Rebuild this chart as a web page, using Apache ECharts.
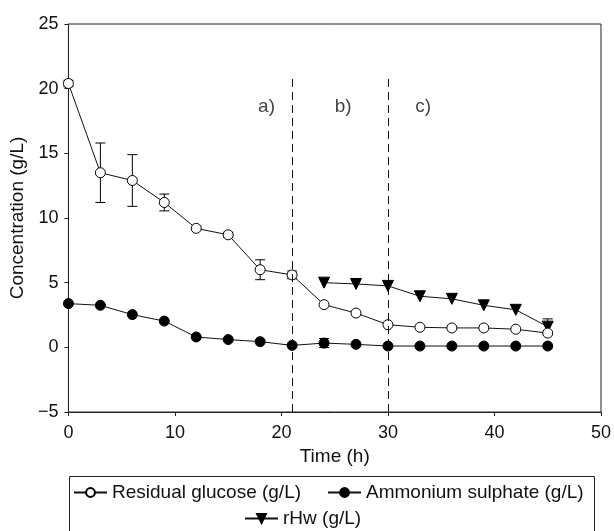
<!DOCTYPE html>
<html>
<head>
<meta charset="utf-8">
<script src="https://cdn.jsdelivr.net/npm/echarts@6/dist/echarts.min.js"></script>
<style>
  html, body { margin: 0; padding: 0; background: #fff; }
  #chart { width: 614px; height: 531px; }
</style>
</head>
<body>
<div id="chart"></div>
<script>
// 数据
const time = [0, 3, 6, 9, 12, 15, 18, 21, 24, 27, 30, 33, 36, 39, 42, 45];
const glucose = [20.4, 13.5, 12.9, 11.2, 9.2, 8.7, 6.0, 5.6, 3.3, 2.65, 1.75, 1.55, 1.5, 1.5, 1.4, 1.1];
const glucoseErr = [0.25, 2.3, 2.0, 0.65, 0.1, 0.2, 0.77, 0.3, 0, 0, 0, 0, 0, 0, 0, 0];
const ammonium = [3.38, 3.25, 2.53, 2.03, 0.8, 0.6, 0.44, 0.15, 0.33, 0.23, 0.1, 0.1, 0.1, 0.1, 0.1, 0.1];
const ammoniumErr = [0, 0, 0, 0, 0, 0, 0, 0, 0.35, 0, 0, 0, 0, 0, 0, 0];
const rhwTime = [24, 27, 30, 33, 36, 39, 42, 45];
const rhw = [5.0, 4.9, 4.75, 3.95, 3.75, 3.25, 2.9, 1.6];
const rhwErr = [0, 0, 0, 0, 0, 0, 0, 0.6];

const phaseLines = [21, 30];
const phaseTop = 21;
const phaseLabels = ['a)', 'b)', 'c)'];
const phaseLabelX = [18.6, 25.8, 33.3];
const phaseLabelY = 18.6;

const names = ['Residual glucose (g/L)', 'Ammonium sulphate (g/L)', 'rHw (g/L)'];

const FONT = 'Liberation Sans, Arial, sans-serif';

function pairs(xs, ys) {
    return xs.map(function (x, i) { return [x, ys[i]]; });
}

function errData(xs, ys, es) {
    let out = [];
    xs.forEach(function (x, i) {
        if (es[i] > 0) out.push([x, ys[i] - es[i], ys[i] + es[i]]);
    });
    return out;
}

function renderErr(params, api) {
    let x = api.value(0);
    let lo = api.coord([x, api.value(1)]);
    let hi = api.coord([x, api.value(2)]);
    let w = 5;
    let style = { stroke: '#000', lineWidth: 1 };
    return {
        type: 'group',
        children: [
            { type: 'line', shape: { x1: lo[0], y1: lo[1], x2: hi[0], y2: hi[1] }, style: style },
            { type: 'line', shape: { x1: lo[0] - w, y1: lo[1], x2: lo[0] + w, y2: lo[1] }, style: style },
            { type: 'line', shape: { x1: hi[0] - w, y1: hi[1], x2: hi[0] + w, y2: hi[1] }, style: style }
        ]
    };
}

let myChart = echarts.init(document.getElementById('chart'));

let option = {
    animation: false,
    backgroundColor: '#fff',
    textStyle: { fontFamily: FONT },
    grid: {
        left: 68, right: 10, top: 24, bottom: 119,
        show: true, borderColor: '#222', borderWidth: 1
    },
    xAxis: {
        type: 'value',
        min: 0, max: 50, interval: 10,
        name: 'Time (h)',
        nameLocation: 'middle',
        nameGap: 32,
        nameTextStyle: { color: '#111', fontSize: 19, fontFamily: FONT },
        axisLine: { show: true, onZero: false, lineStyle: { color: '#222', width: 1 } },
        axisTick: { show: true, inside: false, length: 4, lineStyle: { color: '#222' } },
        axisLabel: { color: '#111', fontSize: 18, margin: 12, fontFamily: FONT },
        splitLine: { show: false }
    },
    yAxis: {
        type: 'value',
        min: -5, max: 25, interval: 5,
        name: 'Concentration (g/L)',
        nameLocation: 'middle',
        nameGap: 40,
        nameTextStyle: { color: '#111', fontSize: 19, fontFamily: FONT },
        axisLine: { show: true, onZero: false, lineStyle: { color: '#222', width: 1 } },
        axisTick: { show: true, inside: false, length: 4, lineStyle: { color: '#222' } },
        axisLabel: {
            color: '#111', fontSize: 18, margin: 10, fontFamily: FONT,
            formatter: function (v) { return v < 0 ? '\u2212' + Math.abs(v) : String(v); }
        },
        splitLine: { show: false }
    },
    legend: [{
        data: [names[0], names[1]],
        left: 68, top: 478,
        itemGap: 26, itemWidth: 33, itemHeight: 11, itemTextGap: 11,
        textStyle: { color: '#111', fontSize: 19, fontFamily: FONT }
    }, {
        data: [names[2]],
        left: 239, top: 504,
        itemWidth: 33, itemHeight: 11, itemTextGap: 10,
        textStyle: { color: '#111', fontSize: 19, fontFamily: FONT }
    }],
    graphic: [{
        type: 'rect',
        shape: { x: 69.5, y: 476.5, width: 525, height: 80 },
        style: { fill: 'none', stroke: '#222', lineWidth: 1 },
        silent: true
    }],
    series: [{
        type: 'custom',
        renderItem: renderErr,
        data: errData(time, glucose, glucoseErr),
        z: 1, silent: true
    }, {
        type: 'custom',
        renderItem: renderErr,
        data: errData(time, ammonium, ammoniumErr),
        z: 1, silent: true
    }, {
        type: 'custom',
        renderItem: renderErr,
        data: errData(rhwTime, rhw, rhwErr),
        z: 1, silent: true
    }, {
        name: names[1],
        type: 'line',
        data: pairs(time, ammonium),
        symbol: 'circle', symbolSize: 10,
        itemStyle: { color: '#000', borderColor: '#000', borderWidth: 1 },
        lineStyle: { color: '#111', width: 1 },
        z: 3
    }, {
        name: names[2],
        type: 'line',
        data: pairs(rhwTime, rhw),
        symbol: 'triangle', symbolSize: 11, symbolRotate: 180,
        itemStyle: { color: '#000', borderColor: '#000', borderWidth: 1 },
        lineStyle: { color: '#111', width: 1 },
        z: 3
    }, {
        name: names[0],
        type: 'line',
        data: pairs(time, glucose),
        symbol: 'circle', symbolSize: 10,
        itemStyle: { color: '#fff', borderColor: '#000', borderWidth: 1 },
        lineStyle: { color: '#111', width: 1 },
        z: 4,
        markLine: {
            silent: true,
            symbol: 'none',
            label: { show: false },
            lineStyle: { color: '#111', width: 1, type: [8, 5] },
            data: phaseLines.map(function (x) {
                return [{ coord: [x, -5] }, { coord: [x, phaseTop] }];
            })
        }
    }, {
        type: 'scatter',
        data: phaseLabelX.map(function (x, i) { return [x, phaseLabelY, phaseLabels[i]]; }),
        symbolSize: 0,
        silent: true,
        label: {
            show: true, position: 'inside',
            formatter: function (p) { return p.value[2]; },
            color: '#111', fontSize: 19, fontFamily: FONT
        }
    }]
};

myChart.setOption(option);
</script>
</body>
</html>
